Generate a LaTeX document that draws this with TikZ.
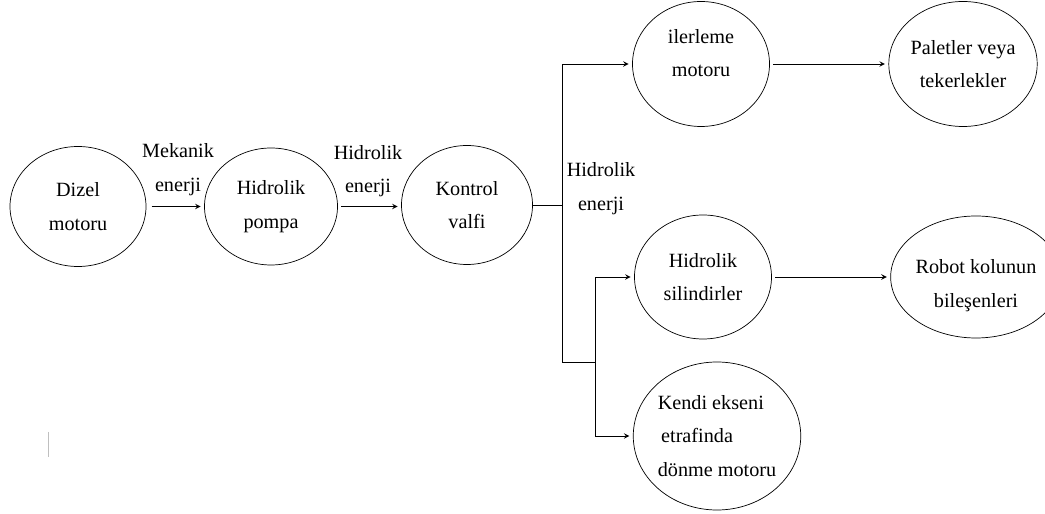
\documentclass[tikz,border=0pt]{standalone}
\usepackage{fontspec}
\setmainfont{Liberation Serif}
\usetikzlibrary{arrows,positioning,shapes}
\tikzset{
	>=stealth, line width=0.6pt,
	blob/.style={ellipse, draw, inner sep=0pt, align=center, font=\fontsize{11.5}{19}\selectfont},
	lbl/.style={align=center, font=\fontsize{11.5}{19}\selectfont},
}
\begin{document}
\begin{tikzpicture}
	\useasboundingbox (0,0) rectangle (20.9,10.28);
	\node[blob, minimum width=2.72cm, minimum height=2.4cm] (dizel) at (1.56,6.15) {Dizel\\motoru};
	\node[blob, minimum width=2.66cm, minimum height=2.34cm] (pompa) at (5.42,6.15) {Hidrolik\\pompa};
	\node[blob, minimum width=2.62cm, minimum height=2.38cm] (kontrol) at (9.34,6.18) {Kontrol\\valfi};
	\node[blob, minimum width=2.74cm, minimum height=2.5cm, text depth=0.45cm] (ilerleme) at (14.02,9.0) {ilerleme\\motoru};
	\node[blob, minimum width=2.76cm, minimum height=2.5cm] (palet) at (19.26,9.0) {Paletler veya\\tekerlekler};
	\node[blob, minimum width=2.74cm, minimum height=2.48cm] (silindir) at (14.06,4.74) {Hidrolik\\silindirler};
	\node[blob, minimum width=2.74cm, minimum height=2.44cm, text height=1.3cm] (robot) at (19.52,4.74) {Robot kolunun\\bileşenleri};
	\node[blob, align=left, minimum width=3.0cm, minimum height=2.96cm] (kendi) at (14.34,1.56) {Kendi ekseni\\\,etrafinda\\dönme motoru};

	\node[lbl] (mekanik) at (3.56,6.89) {Mekanik\\enerji};
	\node[lbl] (hid1) at (7.36,6.86) {Hidrolik\\enerji};
	\node[lbl] (hid2) at (12.02,6.51) {Hidrolik\\enerji};

	\coordinate (j1) at (11.24,6.18);
	\coordinate (j2) at (11.9,3.04);

	\draw[->, shorten <=3pt, shorten >=2pt] (dizel) -- (pompa);
	\draw[->, shorten <=2pt, shorten >=2pt] (pompa.east) -- (pompa.east -| kontrol.west);
	\draw (kontrol.east) -- (j1);
	\draw[->, shorten >=2pt] (j1) |- (ilerleme.west);
	\draw (j1) |- (j2);
	\draw[->, shorten >=2pt] (j2) |- (silindir.west);
	\draw[->, shorten >=2pt] (j2) |- (kendi.west);
	\draw[->, shorten <=2pt, shorten >=2pt] (ilerleme) -- (palet);
	\draw[->, shorten <=2pt, shorten >=2pt] (silindir) -- (robot);
	% stray mark
	\draw[black!25, line width=0.4pt] (0.96,1.64) -- (0.96,1.14);
\end{tikzpicture}
\end{document}
